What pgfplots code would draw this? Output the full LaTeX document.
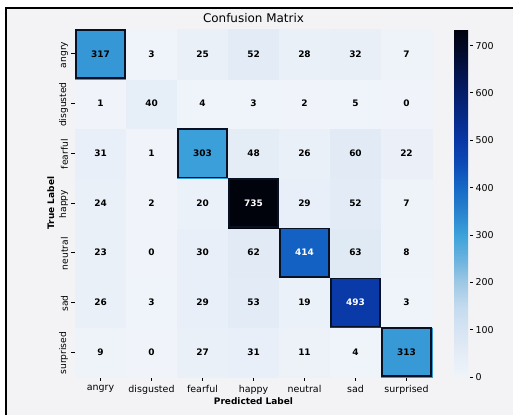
\documentclass[border=0pt]{standalone}
\usepackage{pgfplots}
\pgfplotsset{compat=1.18}
\usepackage{pgfplotstable}
\usepackage{fontspec}
\setmainfont{DejaVu Sans}
\definecolor{figbg}{RGB}{243,243,245}
\definecolor{diagedge}{RGB}{8,16,36}

\pgfplotsset{
  colormap={cmblue}{
    rgb255(0pt)=(240,244,250)
    rgb255(50pt)=(228,236,246)
    rgb255(100pt)=(214,228,243)
    rgb255(150pt)=(195,218,238)
    rgb255(200pt)=(158,200,229)
    rgb255(250pt)=(105,178,222)
    rgb255(300pt)=(60,162,218)
    rgb255(350pt)=(40,130,205)
    rgb255(400pt)=(22,105,198)
    rgb255(450pt)=(12,75,182)
    rgb255(500pt)=(8,55,165)
    rgb255(550pt)=(6,42,135)
    rgb255(600pt)=(5,30,105)
    rgb255(650pt)=(4,18,70)
    rgb255(700pt)=(2,8,35)
    rgb255(735pt)=(0,2,12)
  }
}

% x = predicted class, y = true class (0 = surprised ... 6 = angry)
\pgfplotstableread{
x y c
0 0 9
1 0 0
2 0 27
3 0 31
4 0 11
5 0 4
6 0 313
0 1 26
1 1 3
2 1 29
3 1 53
4 1 19
5 1 493
6 1 3
0 2 23
1 2 0
2 2 30
3 2 62
4 2 414
5 2 63
6 2 8
0 3 24
1 3 2
2 3 20
3 3 735
4 3 29
5 3 52
6 3 7
0 4 31
1 4 1
2 4 303
3 4 48
4 4 26
5 4 60
6 4 22
0 5 1
1 5 40
2 5 4
3 5 3
4 5 2
5 5 5
6 5 0
0 6 317
1 6 3
2 6 25
3 6 52
4 6 28
5 6 32
6 6 7
}\cmdata

\begin{document}
\begin{tikzpicture}
\fill[white] (0,0) rectangle (513bp,-415bp);
\fill[figbg] (6bp,-8bp) rectangle (513bp,-415bp);
\draw[black, line width=1.2bp] (6bp,-415bp) -- (6bp,-8bp) -- (513bp,-8bp);
\begin{axis}[
  at={(75bp,-377bp)}, anchor=south west,
  scale only axis, width=357bp, height=348bp,
  xmin=-0.5, xmax=6.5, ymin=-0.5, ymax=6.5,
  enlargelimits=false, clip=false,
  xtick={0,...,6}, ytick={0,...,6},
  xticklabels={angry,disgusted,fearful,happy,neutral,sad,surprised},
  yticklabels={surprised,sad,neutral,happy,fearful,disgusted,angry},
  tick align=outside, xtick pos=bottom, ytick pos=left,
  major tick length=3.5bp,
  tick style={black, line width=0.9bp},
  axis line style={draw=none},
  x tick label style={font=\fontsize{9.5}{10}\selectfont, anchor=north, yshift=-1bp},
  y tick label style={font=\fontsize{9.2}{10}\selectfont, rotate=90, anchor=south, xshift=-1bp},
  title={Confusion Matrix},
  title style={font=\fontsize{12}{13}\selectfont, yshift=-3bp},
  xlabel={Predicted Label},
  ylabel={True Label},
  xlabel style={font=\bfseries\fontsize{9}{10}\selectfont, yshift=3bp},
  ylabel style={font=\bfseries\fontsize{9}{10}\selectfont, yshift=-2bp},
  colormap name=cmblue,
  point meta min=0, point meta max=735,
  colorbar,
  colorbar style={
    at={(parent axis.north east)}, anchor=north west, xshift=13.5bp,
    scale only axis, width=16bp, height=348bp,
    ytick={0,100,...,700},
    tick align=outside, ytick pos=right, yticklabel pos=right,
    major tick length=3bp,
    tick style={black, line width=0.9bp},
    axis line style={draw=none},
    y tick label style={font=\fontsize{9.5}{10}\selectfont, xshift=-1bp},
    /pgf/number format/assume math mode=true,
  },
  /pgf/number format/assume math mode=true,
]
\addplot[matrix plot*, mesh/cols=7, point meta=explicit] table[x=x, y=y, meta=c] {\cmdata};
\addplot[only marks, mark=square, mark size=24.1bp,
  mark options={xscale=1.027, line width=1.6bp, draw=diagedge, fill=none}]
  coordinates {(0,6) (2,4) (3,3) (4,2) (5,1) (6,0)};
\addplot[only marks, mark=none, draw=none, point meta=explicit,
  restrict expr to domain={\thisrow{c}}{0:350},
  nodes near coords, nodes near coords align=center,
  every node near coord/.append style={text=black, font=\bfseries\fontsize{9}{9}\selectfont, anchor=center, inner sep=0pt}]
  table[x=x, y=y, meta=c] {\cmdata};
\addplot[only marks, mark=none, draw=none, point meta=explicit,
  restrict expr to domain={\thisrow{c}}{350:1000},
  nodes near coords, nodes near coords align=center,
  every node near coord/.append style={text=white, font=\bfseries\fontsize{9}{9}\selectfont, anchor=center, inner sep=0pt}]
  table[x=x, y=y, meta=c] {\cmdata};
\end{axis}
\pgfresetboundingbox
\path (0,0) rectangle (513bp,-415bp);
\end{tikzpicture}
\end{document}
